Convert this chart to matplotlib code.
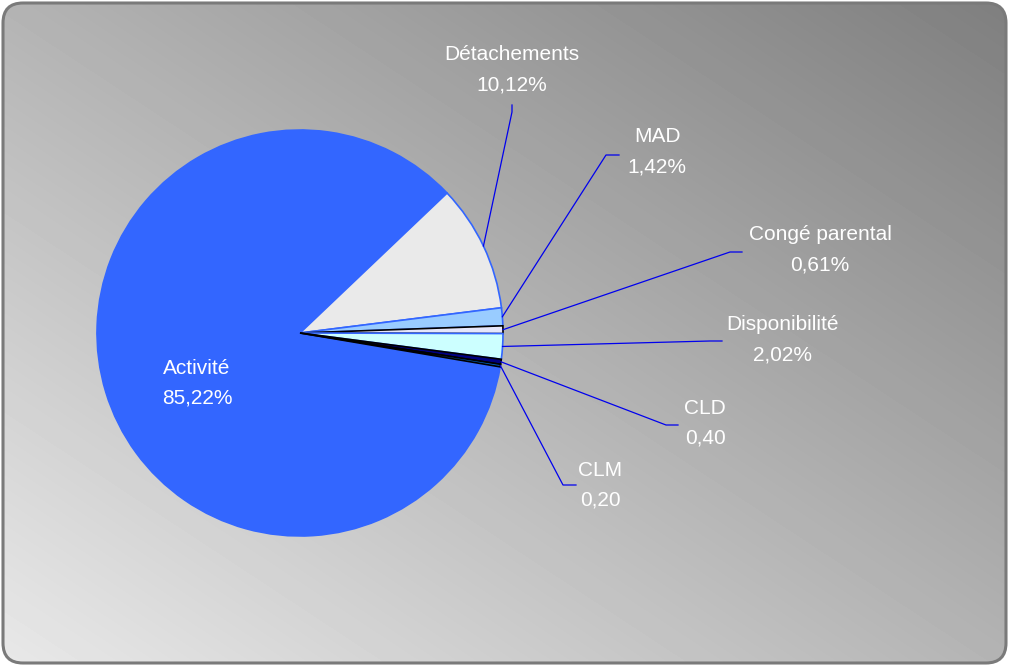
import numpy as np
import matplotlib.pyplot as plt
from matplotlib.patches import FancyBboxPatch

plt.rcParams['font.family'] = ['Liberation Sans', 'DejaVu Sans']

# répartition des positions statutaires
categories = ['Activité', 'Détachements', 'MAD', 'Congé parental',
              'Disponibilité', 'CLD', 'CLM']
values = [85.22, 10.12, 1.42, 0.61, 2.02, 0.40, 0.20]
value_labels = ['85,22%', '10,12%', '1,42%', '0,61%', '2,02%', '0,40', '0,20']

colors = ['#3366FF', '#EAEAEA', '#99CCFF', '#E6E6FA', '#CCFFFF', '#000080', '#0066CC']
edges = ['#3366FF', '#3366FF', '#3366FF', '#000000', '#3366FF', '#000000', '#000000']

W, H = 1009, 666
fig = plt.figure(figsize=(W / 100, H / 100), dpi=100)
ax = fig.add_axes([0, 0, 1, 1])

# fond dégradé dans un cadre arrondi
frame = FancyBboxPatch((3, 3), W - 6, H - 6, boxstyle='round,pad=0,rounding_size=20',
                       facecolor='none', edgecolor='#7a7a7a', linewidth=2.2, zorder=3)
ax.add_patch(frame)
gx, gy = np.meshgrid(np.linspace(0, 1, 200), np.linspace(0, 1, 200))
grad = 232 - 105 * (gx + gy) / 2
bg = ax.imshow(grad, cmap='gray', vmin=0, vmax=255, origin='lower',
               extent=(3, W - 3, 3, H - 3), zorder=0, interpolation='bilinear')
bg.set_clip_path(frame)

cx, cy, r = 300, H - 333, 203
wedges, _ = ax.pie(values, colors=colors, startangle=-9.6, counterclock=False,
                   center=(cx, cy), radius=r,
                   wedgeprops=dict(linewidth=1.2))
for w, ec in zip(wedges, edges):
    w.set_edgecolor(ec)
    w.set_zorder(2)

txt = dict(color='white', fontsize=15, ha='center', va='center', zorder=5)

# étiquette intérieure
ax.text(197, H - 368, categories[0], **txt)
ax.text(197, H - 398, value_labels[0], **txt)

# étiquettes extérieures : (x texte, y texte), coude, extrémité
outside = {
    1: ((512, 55), (512, 112), (512, 105)),
    2: ((657, 137), (606, 155), (619, 155)),
    3: ((820, 235), (730, 252), (742, 252)),
    4: ((783, 325), (710, 341), (722, 341)),
    5: ((705, 408), (666, 425), (678, 425)),
    6: ((600, 470), (563, 485), (576, 485)),
}
for i, ((tx, ty), (ex, ey), (fx, fy)) in outside.items():
    w = wedges[i]
    mid = np.deg2rad((w.theta1 + w.theta2) / 2)
    sx, sy = cx + r * np.cos(mid), cy + r * np.sin(mid)
    ax.plot([sx, ex, fx], [sy, H - ey, H - fy], color='#0000EE', lw=0.9, zorder=4)
    ax.text(tx, H - ty, categories[i], **txt)
    ax.text(tx, H - ty - 30, value_labels[i], **txt)

ax.set_xlim(0, W)
ax.set_ylim(0, H)
ax.set_aspect('equal')
ax.axis('off')

fig.savefig('out.png', dpi=100, facecolor='white')
